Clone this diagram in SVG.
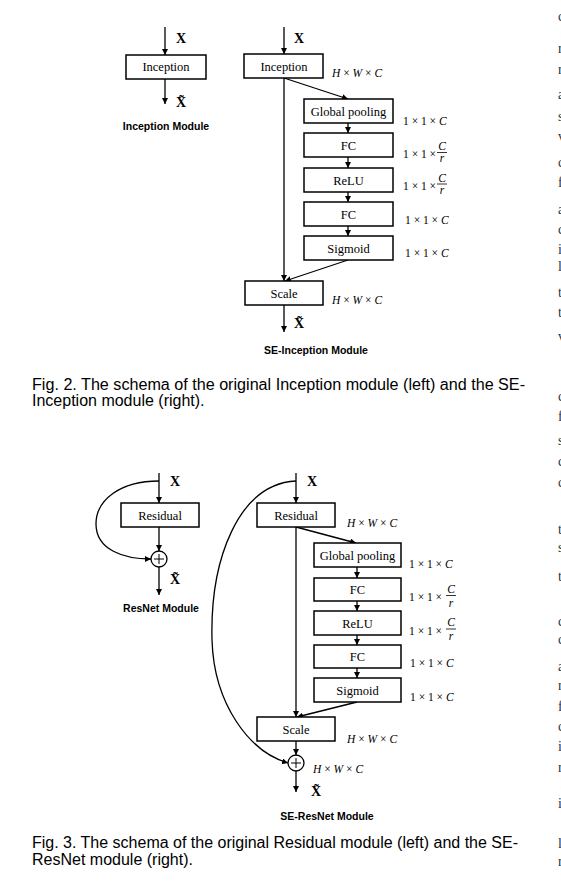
<svg xmlns="http://www.w3.org/2000/svg" width="561" height="889" viewBox="0 0 561 889">
<style>
.bg{fill:#fff}
.box{fill:#fff;stroke:#000;stroke-width:1.5}
.ln{fill:none;stroke:#000;stroke-width:1.3}
.lbl{font-family:"Liberation Serif","Times New Roman",serif;font-size:12.5px;fill:#000;text-anchor:middle}
.x{font-family:"Liberation Serif","Times New Roman",serif;font-size:14px;font-weight:bold;fill:#000}
.m{font-family:"Liberation Serif","Times New Roman",serif;font-size:11.5px;fill:#000}
.i{font-style:italic}
.title{font-family:"Liberation Sans",Arial,sans-serif;font-size:10.5px;font-weight:bold;fill:#000;text-anchor:middle}
.cap{font-family:"Liberation Sans",Arial,sans-serif;font-size:16px;fill:#000}
.frag{font-family:"Liberation Serif","Times New Roman",serif;font-size:14px;fill:#333}
</style>
<defs>
<marker id="ah" markerUnits="userSpaceOnUse" markerWidth="8" markerHeight="8" refX="6" refY="3" orient="auto">
<path d="M0,0 L6,3 L0,6 z" fill="#000"/>
</marker>
</defs>
<rect class="bg" x="0" y="0" width="561" height="889"/>

<!-- connectors -->
<g id="connectors">
<line class="ln" x1="165" y1="27" x2="165" y2="55" marker-end="url(#ah)"/>
<line class="ln" x1="165" y1="79" x2="165" y2="104" marker-end="url(#ah)"/>

<line class="ln" x1="284" y1="27" x2="284" y2="54" marker-end="url(#ah)"/>
<line class="ln" x1="284" y1="78" x2="348" y2="99" marker-end="url(#ah)"/>
<line class="ln" x1="348" y1="123" x2="348" y2="133" marker-end="url(#ah)"/>
<line class="ln" x1="348" y1="157" x2="348" y2="168" marker-end="url(#ah)"/>
<line class="ln" x1="348" y1="192" x2="348" y2="202" marker-end="url(#ah)"/>
<line class="ln" x1="348" y1="226" x2="348" y2="236" marker-end="url(#ah)"/>
<line class="ln" x1="348" y1="260" x2="285" y2="281" marker-end="url(#ah)"/>
<line class="ln" x1="284" y1="78" x2="284" y2="281" marker-end="url(#ah)"/>
<line class="ln" x1="284" y1="305" x2="284" y2="332" marker-end="url(#ah)"/>

<line class="ln" x1="159" y1="473" x2="159" y2="503" marker-end="url(#ah)"/>
<line class="ln" x1="159" y1="527" x2="159" y2="551" marker-end="url(#ah)"/>
<line class="ln" x1="159" y1="567" x2="159" y2="595" marker-end="url(#ah)"/>
<path class="ln" d="M159,481 C120,481 96,500 96,524 C96,550 124,559 151,559" marker-end="url(#ah)"/>

<line class="ln" x1="296" y1="473" x2="296" y2="503" marker-end="url(#ah)"/>
<line class="ln" x1="296" y1="527" x2="356" y2="543" marker-end="url(#ah)"/>
<line class="ln" x1="357" y1="567" x2="357" y2="578" marker-end="url(#ah)"/>
<line class="ln" x1="357" y1="601" x2="357" y2="611" marker-end="url(#ah)"/>
<line class="ln" x1="357" y1="635" x2="357" y2="645" marker-end="url(#ah)"/>
<line class="ln" x1="357" y1="668" x2="357" y2="678" marker-end="url(#ah)"/>
<line class="ln" x1="357" y1="702" x2="297" y2="717" marker-end="url(#ah)"/>
<line class="ln" x1="296" y1="527" x2="296" y2="717" marker-end="url(#ah)"/>
<line class="ln" x1="296" y1="741" x2="296" y2="755" marker-end="url(#ah)"/>
<line class="ln" x1="296" y1="771" x2="296" y2="792" marker-end="url(#ah)"/>
<path class="ln" d="M296,481 C238,484 210,560 212,640 C214,705 250,752 288,763" marker-end="url(#ah)"/>
</g>

<!-- Inception module -->
<g id="inception-left">
<rect class="box" x="126" y="55" width="80" height="24"/>
<text class="lbl" x="166" y="71">Inception</text>
<text class="x" x="176" y="43">X</text>
<text class="x" x="176" y="107">X̃</text>
<text class="title" x="166" y="130">Inception Module</text>
</g>

<!-- SE-Inception -->
<g id="se-inception">
<g id="sei-inception">
<rect class="box" x="244" y="54" width="79" height="24"/>
<text class="lbl" x="284" y="70.5">Inception</text>
</g>
<text class="x" x="294" y="43">X</text>
<text class="m" x="332" y="77"><tspan class="i">H</tspan> × <tspan class="i">W</tspan> × <tspan class="i">C</tspan></text>
<g id="sei-gp">
<rect class="box" x="304" y="99" width="89" height="24"/>
<text class="lbl" x="348.5" y="115.5">Global pooling</text>
<text class="m" x="403" y="125">1 × 1 × <tspan class="i">C</tspan></text>
</g>
<g id="sei-fc1">
<rect class="box" x="304" y="133" width="89" height="24"/>
<text class="lbl" x="348.5" y="149.5">FC</text>
<text class="m" x="403" y="158">1 × 1 ×</text>
<text class="m i" x="442" y="150" text-anchor="middle">C</text>
<line x1="437" y1="152.5" x2="447" y2="152.5" stroke="#000" stroke-width="0.8"/>
<text class="m i" x="442" y="162" text-anchor="middle">r</text>
</g>
<g id="sei-relu">
<rect class="box" x="304" y="168" width="89" height="24"/>
<text class="lbl" x="348.5" y="184.5">ReLU</text>
<text class="m" x="403" y="189.5">1 × 1 ×</text>
<text class="m i" x="442" y="181.5" text-anchor="middle">C</text>
<line x1="437" y1="184" x2="447" y2="184" stroke="#000" stroke-width="0.8"/>
<text class="m i" x="442" y="193.5" text-anchor="middle">r</text>
</g>
<g id="sei-fc2">
<rect class="box" x="304" y="202" width="89" height="24"/>
<text class="lbl" x="348.5" y="218.5">FC</text>
<text class="m" x="405" y="224">1 × 1 × <tspan class="i">C</tspan></text>
</g>
<g id="sei-sigmoid">
<rect class="box" x="304" y="236" width="89" height="24"/>
<text class="lbl" x="348.5" y="252.5">Sigmoid</text>
<text class="m" x="405" y="257">1 × 1 × <tspan class="i">C</tspan></text>
</g>
<g id="sei-scale">
<rect class="box" x="245" y="281" width="78" height="24"/>
<text class="lbl" x="284" y="297.5">Scale</text>
<text class="m" x="332" y="304"><tspan class="i">H</tspan> × <tspan class="i">W</tspan> × <tspan class="i">C</tspan></text>
</g>
<text class="x" x="294" y="328">X̃</text>
<text class="title" x="316" y="354">SE-Inception Module</text>
</g>

<text class="cap" x="32" y="390" textLength="493" lengthAdjust="spacingAndGlyphs">Fig. 2. The schema of the original Inception module (left) and the SE-</text>
<text class="cap" x="32" y="406">Inception module (right).</text>

<!-- ResNet module -->
<g id="resnet-left">
<rect class="box" x="121" y="503" width="78" height="24"/>
<text class="lbl" x="160" y="519.5">Residual</text>
<text class="x" x="170" y="486">X</text>
<g id="rn-add">
<circle cx="159" cy="559" r="8" fill="#fff" stroke="#000" stroke-width="1.3"/>
<path d="M154,559 H164 M159,554 V564" stroke="#000" stroke-width="1"/>
</g>
<text class="x" x="170" y="584">X̃</text>
<text class="title" x="161" y="612">ResNet Module</text>
</g>

<!-- SE-ResNet -->
<g id="se-resnet">
<g id="ser-residual">
<rect class="box" x="257" y="503" width="78" height="24"/>
<text class="lbl" x="296" y="519.5">Residual</text>
</g>
<text class="x" x="307" y="486">X</text>
<text class="m" x="347" y="527"><tspan class="i">H</tspan> × <tspan class="i">W</tspan> × <tspan class="i">C</tspan></text>
<g id="ser-gp">
<rect class="box" x="314" y="543" width="87" height="24"/>
<text class="lbl" x="357.5" y="559.5">Global pooling</text>
<text class="m" x="409" y="568">1 × 1 × <tspan class="i">C</tspan></text>
</g>
<g id="ser-fc1">
<rect class="box" x="314" y="578" width="87" height="23"/>
<text class="lbl" x="357.5" y="594">FC</text>
<text class="m" x="409" y="601">1 × 1 ×</text>
<text class="m i" x="451" y="592.5" text-anchor="middle">C</text>
<line x1="446" y1="595.5" x2="456" y2="595.5" stroke="#000" stroke-width="0.8"/>
<text class="m i" x="451" y="607" text-anchor="middle">r</text>
</g>
<g id="ser-relu">
<rect class="box" x="314" y="611" width="87" height="24"/>
<text class="lbl" x="357.5" y="627.5">ReLU</text>
<text class="m" x="409" y="634.5">1 × 1 ×</text>
<text class="m i" x="451" y="626" text-anchor="middle">C</text>
<line x1="446" y1="629" x2="456" y2="629" stroke="#000" stroke-width="0.8"/>
<text class="m i" x="451" y="640" text-anchor="middle">r</text>
</g>
<g id="ser-fc2">
<rect class="box" x="314" y="645" width="87" height="23"/>
<text class="lbl" x="357.5" y="661">FC</text>
<text class="m" x="410" y="667">1 × 1 × <tspan class="i">C</tspan></text>
</g>
<g id="ser-sigmoid">
<rect class="box" x="314" y="678" width="87" height="24"/>
<text class="lbl" x="357.5" y="694.5">Sigmoid</text>
<text class="m" x="410" y="701">1 × 1 × <tspan class="i">C</tspan></text>
</g>
<g id="ser-scale">
<rect class="box" x="257" y="717" width="78" height="24"/>
<text class="lbl" x="296" y="733.5">Scale</text>
<text class="m" x="347" y="743"><tspan class="i">H</tspan> × <tspan class="i">W</tspan> × <tspan class="i">C</tspan></text>
</g>
<g id="ser-add">
<circle cx="296" cy="763" r="8" fill="#fff" stroke="#000" stroke-width="1.3"/>
<path d="M291,763 H301 M296,758 V768" stroke="#000" stroke-width="1"/>
</g>
<text class="m" x="313" y="773"><tspan class="i">H</tspan> × <tspan class="i">W</tspan> × <tspan class="i">C</tspan></text>
<text class="x" x="311" y="796">X̃</text>
<text class="title" x="327" y="820">SE-ResNet Module</text>
</g>

<text class="cap" x="32" y="848" textLength="486" lengthAdjust="spacingAndGlyphs">Fig. 3. The schema of the original Residual module (left) and the SE-</text>
<text class="cap" x="32" y="865">ResNet module (right).</text>

<!-- slivers of the neighbouring column, cut by the right edge -->
<g id="margin-fragments" class="frag">
<text x="558" y="21">c</text>
<text x="558" y="53">r</text>
<text x="558" y="74">r</text>
<text x="558" y="99">a</text>
<text x="558" y="121">s</text>
<text x="558" y="141">v</text>
<text x="558" y="167">c</text>
<text x="558" y="187">f</text>
<text x="558" y="214">a</text>
<text x="558" y="234">c</text>
<text x="558" y="254">i</text>
<text x="558" y="271">l</text>
<text x="558" y="297">t</text>
<text x="558" y="317">t</text>
<text x="558" y="341">v</text>
<text x="558" y="401">c</text>
<text x="558" y="421">f</text>
<text x="558" y="445">s</text>
<text x="558" y="466">c</text>
<text x="558" y="487">c</text>
<text x="558" y="534">t</text>
<text x="558" y="552">s</text>
<text x="558" y="581">t</text>
<text x="558" y="626">c</text>
<text x="558" y="644">c</text>
<text x="558" y="671">a</text>
<text x="558" y="690">r</text>
<text x="558" y="711">f</text>
<text x="558" y="731">c</text>
<text x="558" y="751">i</text>
<text x="558" y="772">r</text>
<text x="558" y="808">i</text>
<text x="558" y="848">l</text>
<text x="558" y="866">r</text>
</g>
</svg>
